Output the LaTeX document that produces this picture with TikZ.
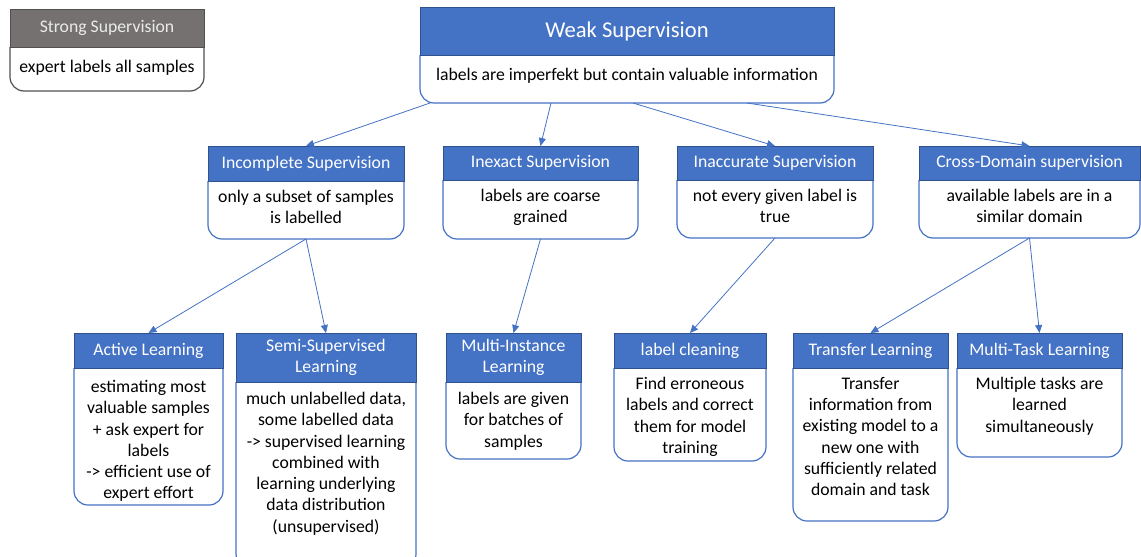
\documentclass[tikz,border=0pt]{standalone}
\usepackage{fontspec}
\setmainfont{Carlito}
\usetikzlibrary{arrows.meta}

\definecolor{hdrblue}{HTML}{4472C4}
\definecolor{hdredge}{HTML}{2F528F}
\definecolor{hdrgray}{HTML}{767171}
\definecolor{grayedge}{HTML}{505050}

\tikzset{
  txt/.style={font=\fontsize{17.7}{21.3}\selectfont},
  bluehead/.style={txt, fill=hdrblue, draw=hdredge, line width=0.8pt, text=white,
    inner sep=0pt, outer sep=0pt, align=center},
  grayhead/.style={txt, fill=hdrgray, draw=grayedge, line width=0.8pt, text=white!92!black,
    inner sep=0pt, outer sep=0pt, align=center},
  blueline/.style={draw=hdrblue, line width=1.2pt},
  grayline/.style={draw=grayedge, line width=1.2pt},
  bodytext/.style={txt, align=center, inner sep=0pt},
  link/.style={draw=hdrblue, line width=0.8pt, -{Triangle[length=8pt,width=7pt]}},
}

% gap between the header and the first line of the body text
\def\bodygap{9}

% #1 name, #2 colour scheme, #3 left, #4 right, #5 top, #6 header bottom,
% #7 bottom, #8 header text, #9 body text
\newcommand\tbox[9]{%
  \draw[#2line, rounded corners=14pt] (#3,#6) -- (#3,#7) -- (#4,#7) -- (#4,#6);
  \node[#2head, anchor=north west, minimum width={#4-#3}, minimum height={#6-#5}]
    (#1) at (#3,#5) {#8};
  \coordinate (#1bot) at ({(#3+#4)/2},#7);
  \node[bodytext, anchor=north] (#1txt) at ([yshift=-\bodygap pt]#1.south) {#9};
}

\begin{document}
\begin{tikzpicture}[x=1pt, y=-1pt]
  \clip (0,0) rectangle (1141,557);

  \def\bodygap{13}
  \tbox{strong}{gray}{10}{204}{9}{47}{91}{Strong Supervision}{expert labels all samples}
  \tbox{weak}{blue}{420}{834}{7}{55}{103}
    {\fontsize{22.6}{27}\selectfont Weak Supervision}
    {labels are imperfekt but contain valuable information}

  \def\bodygap{9}
  \tbox{inc}{blue}{208}{404}{146}{181}{239}{Incomplete Supervision}
    {only a subset of samples\\is labelled}
  \tbox{inex}{blue}{443}{638}{146}{180}{239}{Inexact Supervision}
    {labels are coarse\\grained}
  \tbox{inacc}{blue}{677}{873}{146}{180}{238}{Inaccurate Supervision}
    {not every given label is\\true}
  \tbox{cross}{blue}{919}{1140}{146}{180}{238}{Cross-Domain supervision}
    {available labels are in a\\similar domain}

  \def\bodygap{12}
  \tbox{active}{blue}{74}{223}{333}{368}{505}{Active Learning}
    {estimating most\\valuable samples\\+ ask expert for\\labels\\-> efficient use of\\expert effort}
  \def\bodygap{10}
  \tbox{semi}{blue}{236}{416}{333}{382}{568}{Semi-Supervised\\Learning}
    {much unlabelled data,\\some labelled data\\-> supervised learning\\combined with\\learning underlying\\data distribution\\(unsupervised)}
  \tbox{mi}{blue}{446}{581}{333}{382}{459}{Multi-Instance\\Learning}
    {labels are given\\for batches of\\samples}
  \def\bodygap{9}
  \tbox{clean}{blue}{614}{766}{333}{368}{461}{label cleaning}
    {Find erroneous\\labels and correct\\them for model\\training}
  \tbox{transfer}{blue}{793}{948}{333}{368}{521}{Transfer Learning}
    {Transfer\\information from\\existing model to a\\new one with\\sufficiently related\\domain and task}
  \tbox{mtl}{blue}{957}{1122}{333}{368}{457}{Multi-Task Learning}
    {Multiple tasks are\\learned\\simultaneously}

  % start points of the links on the lower edge of the weak supervision box
  \coordinate (w1) at (430,103);
  \coordinate (w2) at (551,103);
  \coordinate (w3) at (633,103);
  \coordinate (w4) at (747,103);

  \draw[link] (w1) -- (inc.north);
  \draw[link] (w2) -- (inex.north);
  \draw[link] (w3) -- (inacc.north);
  \draw[link] (w4) -- (cross.north);

  \draw[link] (incbot) -- (active.north);
  \draw[link] (incbot) -- (semi.north);
  \draw[link] (inexbot) -- (mi.north);
  \draw[link] (inaccbot) -- (clean.north);
  \draw[link] (crossbot) -- (transfer.north);
  \draw[link] (crossbot) -- (mtl.north);
\end{tikzpicture}
\end{document}
